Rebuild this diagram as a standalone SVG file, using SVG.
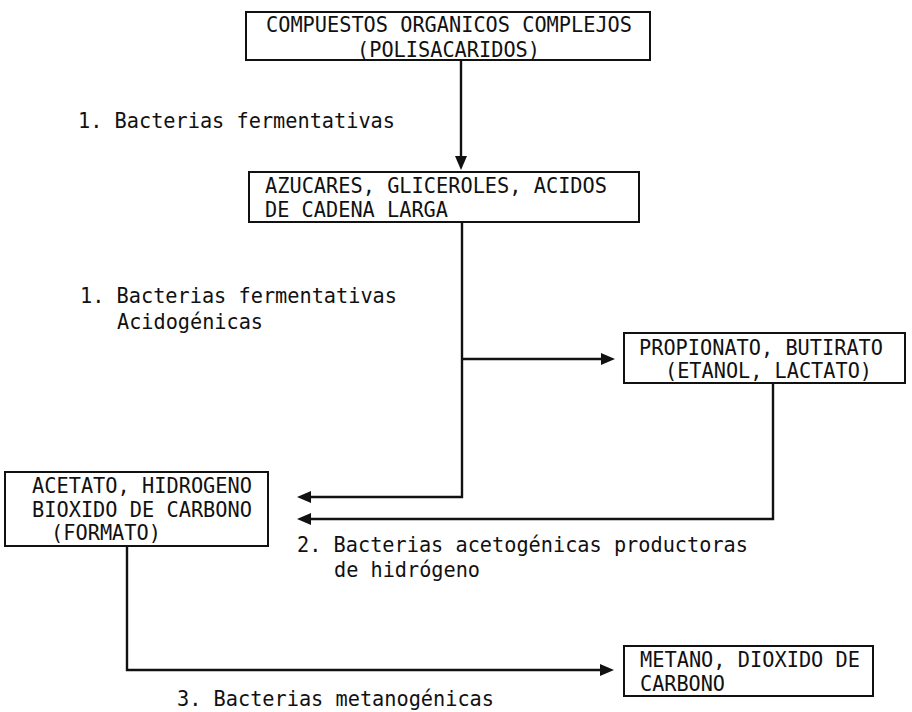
<svg xmlns="http://www.w3.org/2000/svg" width="912" height="712" viewBox="0 0 912 712">
<style>
.box{fill:none;stroke:#111;stroke-width:2}
.t{font-family:"DejaVu Sans Mono","Liberation Mono",monospace;font-size:22px;fill:#111}
.c{fill:none;stroke:#111;stroke-width:2.4}
</style>
<defs>
<marker id="ah" viewBox="0 0 14 12" refX="6" refY="6" markerWidth="14" markerHeight="12" orient="auto" markerUnits="userSpaceOnUse">
<path d="M0,0 L14,6 L0,12 Z" fill="#111"/>
</marker>
</defs>
<rect width="912" height="712" fill="#fff"/>
<g id="connectors">
<path class="c" d="M461,60 V162" marker-end="url(#ah)"/>
<path class="c" d="M462,222 V497 H305" marker-end="url(#ah)"/>
<path class="c" d="M462,359 H607" marker-end="url(#ah)"/>
<path class="c" d="M773,383 V519 H305" marker-end="url(#ah)"/>
<path class="c" d="M127,546 V670 H606" marker-end="url(#ah)"/>
</g>
<g id="n1">
<rect class="box" x="246" y="12" width="404" height="48"/>
<text class="t" x="266" y="32" textLength="366" lengthAdjust="spacingAndGlyphs">COMPUESTOS ORGANICOS COMPLEJOS</text>
<text class="t" x="357" y="57" textLength="183" lengthAdjust="spacingAndGlyphs">(POLISACARIDOS)</text>
</g>
<g id="l1">
<text class="t" x="78" y="128" textLength="317" lengthAdjust="spacingAndGlyphs">1. Bacterias fermentativas</text>
</g>
<g id="n2">
<rect class="box" x="249" y="172" width="390" height="50"/>
<text class="t" x="265" y="193" textLength="342" lengthAdjust="spacingAndGlyphs">AZUCARES, GLICEROLES, ACIDOS</text>
<text class="t" x="265" y="217" textLength="183" lengthAdjust="spacingAndGlyphs">DE CADENA LARGA</text>
</g>
<g id="l2">
<text class="t" x="80" y="303" textLength="317" lengthAdjust="spacingAndGlyphs">1. Bacterias fermentativas</text>
<text class="t" x="117" y="329" textLength="146" lengthAdjust="spacingAndGlyphs">Acidogénicas</text>
</g>
<g id="n3">
<rect class="box" x="624" y="333" width="281" height="50"/>
<text class="t" x="639" y="355" textLength="244" lengthAdjust="spacingAndGlyphs">PROPIONATO, BUTIRATO</text>
<text class="t" x="665" y="378" textLength="207" lengthAdjust="spacingAndGlyphs">(ETANOL, LACTATO)</text>
</g>
<g id="n4">
<rect class="box" x="5" y="472" width="263" height="74"/>
<text class="t" x="32" y="493" textLength="220" lengthAdjust="spacingAndGlyphs">ACETATO, HIDROGENO</text>
<text class="t" x="32" y="517" textLength="220" lengthAdjust="spacingAndGlyphs">BIOXIDO DE CARBONO</text>
<text class="t" x="51" y="540" textLength="110" lengthAdjust="spacingAndGlyphs">(FORMATO)</text>
</g>
<g id="l3">
<text class="t" x="297" y="552" textLength="451" lengthAdjust="spacingAndGlyphs">2. Bacterias acetogénicas productoras</text>
<text class="t" x="334" y="577" textLength="146" lengthAdjust="spacingAndGlyphs">de hidrógeno</text>
</g>
<g id="n5">
<rect class="box" x="624" y="646" width="249" height="50"/>
<text class="t" x="640" y="667" textLength="220" lengthAdjust="spacingAndGlyphs">METANO, DIOXIDO DE</text>
<text class="t" x="640" y="691" textLength="85" lengthAdjust="spacingAndGlyphs">CARBONO</text>
</g>
<g id="l4">
<text class="t" x="177" y="706" textLength="317" lengthAdjust="spacingAndGlyphs">3. Bacterias metanogénicas</text>
</g>
</svg>
